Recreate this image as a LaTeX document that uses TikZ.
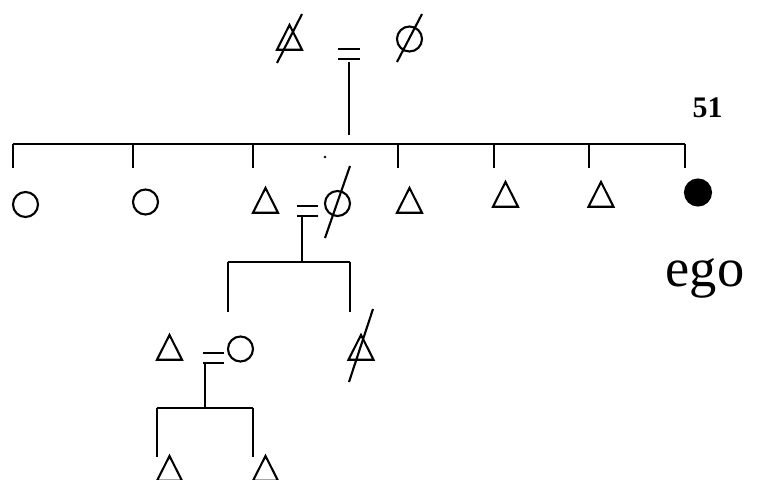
\documentclass[tikz,border=0pt]{standalone}
\usepackage{fontspec}
\setmainfont{Liberation Serif}
\usetikzlibrary{shapes.geometric}

\begin{document}
\begin{tikzpicture}
[x=0.02cm,y=-0.02cm,line width=1.2pt,
  male/.style={regular polygon,regular polygon sides=3,draw,inner sep=0pt,
    minimum size=0.577cm,yscale=1.15,transform shape,anchor=south},
  female/.style={circle,draw,inner sep=0pt,minimum size=0.5cm},
  egobullet/.style={circle,draw,fill=black,inner sep=0pt,minimum size=0.52cm}]
\useasboundingbox (0,0) rectangle (758,480);

% parents
\node[male] (a1) at (289.5,51) {};
\node[female] (a2) at (409.5,39) {};
\draw (a1.south) ++(-12.5,12) -- ++(25,-49);
\draw (a2.center) ++(-12.5,23) -- ++(25,-48);
\coordinate (m1) at (349,59);
\coordinate (s1) at (349,135);
\draw (m1) ++(-11,-10) -- ++(22,0);
\draw (m1) ++(-11,0) -- ++(22,0);
\draw (m1) ++(0,3) -- (s1);

% siblings
\coordinate (bl) at (13,144);
\coordinate (br) at (685,144);
\draw (bl) -- (br);
\foreach \x in {13,133,253,398,494,589,685}
  \draw (\x,144) -- (\x,168);
\node[circle,fill=black,inner sep=0pt,minimum size=1.6pt] (dot) at (325,157) {};

\node[female] (b1) at (25.5,204.5) {};
\node[female] (b2) at (145.5,202) {};
\node[male] (b3) at (265.5,214) {};
\node[female] (b4) at (337.5,203.5) {};
\draw (b4.center) ++(-12.5,34.5) -- ++(25,-72);
\node[male] (b5) at (409.5,214) {};
\node[male] (b6) at (505.5,208) {};
\node[male] (b7) at (601,208) {};
\node[egobullet] (b8) at (698,192.5) {};
\node[anchor=base,font=\fontsize{31}{32}\selectfont] (ego) at (705,286) {ego};
\node[anchor=base,font=\fontsize{17}{18}\selectfont\bfseries] (num) at (707.5,117) {51};

% second generation
\coordinate (m2) at (302,216);
\coordinate (s2) at (302,262);
\draw (m2) ++(-5,-10) -- ++(21,0);
\draw (m2) ++(-5,0) -- ++(21,0);
\draw (m2) -- (s2);
\coordinate (cl) at (228,262);
\coordinate (cr) at (350,262);
\draw (cl) -- (cr);
\draw (cl) -- ++(0,50);
\draw (cr) -- ++(0,50);

\node[male] (c1) at (169.5,361) {};
\node[female] (c2) at (240.5,349) {};
\node[male] (c3) at (361,361) {};
\draw (c3.south) ++(-12,21) -- ++(24,-73);

% third generation
\coordinate (m3) at (205,363);
\coordinate (s3) at (205,408);
\draw (m3) ++(-2,-10) -- ++(21,0);
\draw (m3) ++(-2,0) -- ++(21,0);
\draw (m3) -- (s3);
\coordinate (dl) at (157,408);
\coordinate (dr) at (253,408);
\draw (dl) -- (dr);
\draw (dl) -- ++(0,49);
\draw (dr) -- ++(0,49);

\node[male] (d1) at (169.5,482) {};
\node[male] (d2) at (265.5,482) {};
\end{tikzpicture}
\end{document}
